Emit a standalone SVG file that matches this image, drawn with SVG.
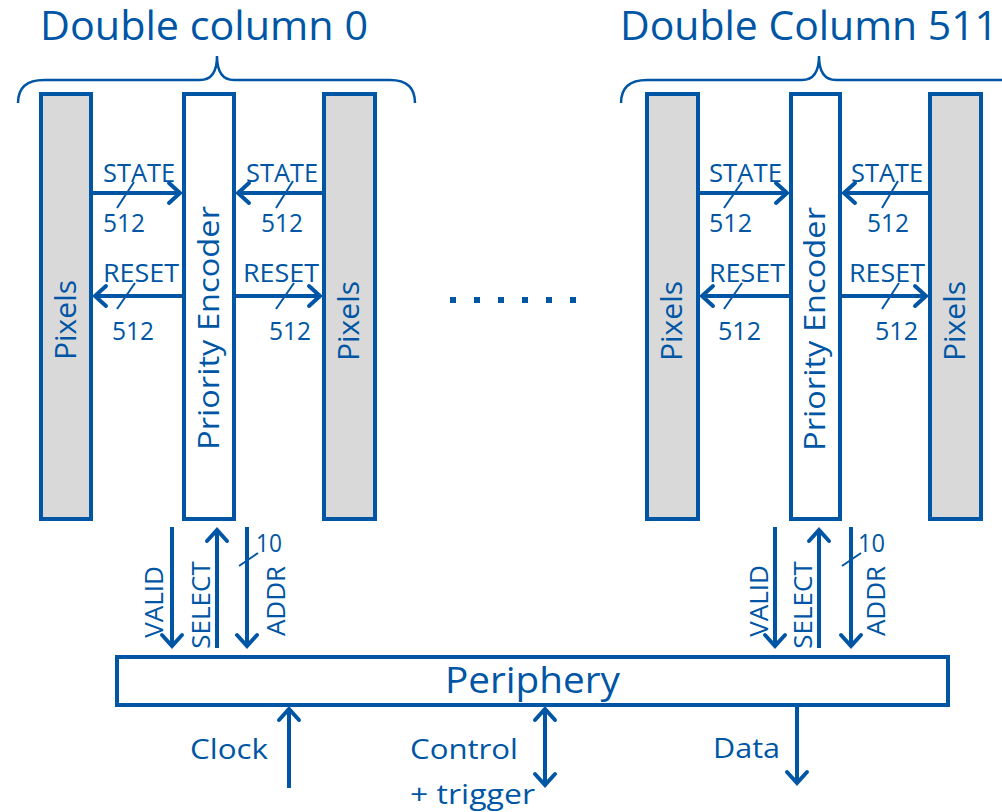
<svg xmlns="http://www.w3.org/2000/svg" width="1002" height="812" viewBox="0 0 1002 812">
  <defs>
    <style>
      .t { font-family: "Open Sans", "Noto Sans", sans-serif; fill: #0056a4; }
      .title { font-size: 41px; }
      .sig { font-size: 26px; }
      .lbl { font-size: 28px; }
      .col { font-size: 30px; }
      .pix { fill: #d9d9d9; stroke: #0056a4; stroke-width: 4; }
      .box { fill: #ffffff; stroke: #0056a4; stroke-width: 4; }
      .brace { fill: none; stroke: #0056a4; stroke-width: 2.5; }
      .wire { fill: none; stroke: #0056a4; stroke-width: 4; }
      .bus { fill: none; stroke: #0056a4; stroke-width: 2; }
    </style>
    <marker id="arrow" markerUnits="userSpaceOnUse" viewBox="-16 -14 20 28" refX="0" refY="0" markerWidth="20" markerHeight="28" orient="auto-start-reverse">
      <path d="M-11,-10 L0,0 L-11,10" fill="none" stroke="#0056a4" stroke-width="4" stroke-linecap="round" stroke-linejoin="miter"/>
    </marker>
  </defs>

  <rect width="1002" height="812" fill="#ffffff"/>

  <!-- Double column 0 -->
  <g id="dc0-title">
    <text class="t title" x="40" y="40" textLength="328" lengthAdjust="spacingAndGlyphs">Double column 0</text>
    <path class="brace" d="M18,103 Q18,80 44,80 L200,80 Q217,80 217,56 Q217,80 234,80 L390,80 Q415,80 415,103"/>
  </g>
  <g id="dc0-pixels-left">
    <rect class="pix" x="41" y="94" width="50" height="425"/>
    <text class="t col" transform="translate(76,320) rotate(-90)" text-anchor="middle" textLength="80" lengthAdjust="spacingAndGlyphs">Pixels</text>
  </g>
  <g id="dc0-encoder">
    <rect class="box" x="184" y="94" width="50" height="425"/>
    <text class="t col" transform="translate(219,328) rotate(-90)" text-anchor="middle" textLength="244" lengthAdjust="spacingAndGlyphs">Priority Encoder</text>
  </g>
  <g id="dc0-pixels-right">
    <rect class="pix" x="324" y="94" width="51" height="425"/>
    <text class="t col" transform="translate(359,321) rotate(-90)" text-anchor="middle" textLength="80" lengthAdjust="spacingAndGlyphs">Pixels</text>
  </g>

  <!-- Double Column 511 -->
  <g id="dc511-title">
    <text class="t title" x="620" y="40" textLength="378" lengthAdjust="spacingAndGlyphs">Double Column 511</text>
    <path class="brace" d="M621,103 Q621,80 647,80 L802,80 Q819,80 819,56 Q819,80 836,80 L1012,80"/>
  </g>
  <g id="dc511-pixels-left">
    <rect class="pix" x="647" y="94" width="51" height="425"/>
    <text class="t col" transform="translate(682,321) rotate(-90)" text-anchor="middle" textLength="80" lengthAdjust="spacingAndGlyphs">Pixels</text>
  </g>
  <g id="dc511-encoder">
    <rect class="box" x="791" y="94" width="49" height="425"/>
    <text class="t col" transform="translate(825,329) rotate(-90)" text-anchor="middle" textLength="244" lengthAdjust="spacingAndGlyphs">Priority Encoder</text>
  </g>
  <g id="dc511-pixels-right">
    <rect class="pix" x="930" y="94" width="51" height="425"/>
    <text class="t col" transform="translate(965,321) rotate(-90)" text-anchor="middle" textLength="80" lengthAdjust="spacingAndGlyphs">Pixels</text>
  </g>

  <!-- ellipsis between columns -->
  <g id="ellipsis" fill="#0056a4">
    <rect x="450" y="297" width="6" height="6"/>
    <rect x="474" y="297" width="6" height="6"/>
    <rect x="498" y="297" width="6" height="6"/>
    <rect x="522" y="297" width="6" height="6"/>
    <rect x="546" y="297" width="6" height="6"/>
    <rect x="570" y="297" width="6" height="6"/>
  </g>

  <!-- Periphery -->
  <g id="periphery">
    <rect class="box" x="117" y="657" width="831" height="48"/>
    <text class="t" style="font-size:36px" x="445" y="693" textLength="175" lengthAdjust="spacingAndGlyphs">Periphery</text>
  </g>

  <!-- connectors -->
  <g id="connectors">
    <!-- column 0: STATE / RESET buses -->
    <line class="wire" x1="93" y1="193" x2="180" y2="193" marker-end="url(#arrow)"/>
    <line class="bus" x1="117" y1="208" x2="134" y2="182"/>
    <line class="wire" x1="322" y1="193" x2="238" y2="193" marker-end="url(#arrow)"/>
    <line class="bus" x1="276" y1="208" x2="293" y2="181"/>
    <line class="wire" x1="182" y1="296" x2="95" y2="296" marker-end="url(#arrow)"/>
    <line class="bus" x1="117" y1="309" x2="135" y2="283"/>
    <line class="wire" x1="236" y1="296" x2="320" y2="296" marker-end="url(#arrow)"/>
    <line class="bus" x1="276" y1="309" x2="294" y2="283"/>

    <!-- column 511: STATE / RESET buses -->
    <line class="wire" x1="700" y1="193" x2="787" y2="193" marker-end="url(#arrow)"/>
    <line class="bus" x1="724" y1="208" x2="742" y2="182"/>
    <line class="wire" x1="928" y1="193" x2="844" y2="193" marker-end="url(#arrow)"/>
    <line class="bus" x1="882" y1="208" x2="898" y2="181"/>
    <line class="wire" x1="789" y1="296" x2="702" y2="296" marker-end="url(#arrow)"/>
    <line class="bus" x1="724" y1="309" x2="742" y2="283"/>
    <line class="wire" x1="842" y1="296" x2="926" y2="296" marker-end="url(#arrow)"/>
    <line class="bus" x1="882" y1="309" x2="899" y2="283"/>

    <!-- column 0: VALID / SELECT / ADDR -->
    <line class="wire" x1="172" y1="527" x2="172" y2="646" marker-end="url(#arrow)"/>
    <line class="wire" x1="217" y1="648" x2="217" y2="530" marker-end="url(#arrow)"/>
    <line class="wire" x1="247" y1="527" x2="247" y2="646" marker-end="url(#arrow)"/>
    <line class="bus" x1="239" y1="566" x2="258" y2="553"/>

    <!-- column 511: VALID / SELECT / ADDR -->
    <line class="wire" x1="775" y1="527" x2="775" y2="646" marker-end="url(#arrow)"/>
    <line class="wire" x1="819" y1="648" x2="819" y2="530" marker-end="url(#arrow)"/>
    <line class="wire" x1="851" y1="527" x2="851" y2="646" marker-end="url(#arrow)"/>
    <line class="bus" x1="842" y1="566" x2="861" y2="553"/>

    <!-- periphery I/O -->
    <line class="wire" x1="289" y1="788" x2="289" y2="709" marker-end="url(#arrow)"/>
    <line class="wire" x1="545" y1="709" x2="545" y2="785" marker-start="url(#arrow)" marker-end="url(#arrow)"/>
    <line class="wire" x1="797" y1="707" x2="797" y2="783" marker-end="url(#arrow)"/>
  </g>

  <!-- signal labels -->
  <g id="labels" class="t sig">
    <text x="103" y="182" textLength="72" lengthAdjust="spacingAndGlyphs">STATE</text>
    <text x="103" y="232" textLength="42" lengthAdjust="spacingAndGlyphs">512</text>
    <text x="246" y="182" textLength="72" lengthAdjust="spacingAndGlyphs">STATE</text>
    <text x="261" y="232" textLength="42" lengthAdjust="spacingAndGlyphs">512</text>
    <text x="103" y="282" textLength="76" lengthAdjust="spacingAndGlyphs">RESET</text>
    <text x="112" y="340" textLength="42" lengthAdjust="spacingAndGlyphs">512</text>
    <text x="243" y="282" textLength="76" lengthAdjust="spacingAndGlyphs">RESET</text>
    <text x="269" y="340" textLength="42" lengthAdjust="spacingAndGlyphs">512</text>

    <text x="709" y="182" textLength="73" lengthAdjust="spacingAndGlyphs">STATE</text>
    <text x="709" y="232" textLength="43" lengthAdjust="spacingAndGlyphs">512</text>
    <text x="851" y="182" textLength="72" lengthAdjust="spacingAndGlyphs">STATE</text>
    <text x="867" y="232" textLength="42" lengthAdjust="spacingAndGlyphs">512</text>
    <text x="709" y="282" textLength="76" lengthAdjust="spacingAndGlyphs">RESET</text>
    <text x="718" y="340" textLength="43" lengthAdjust="spacingAndGlyphs">512</text>
    <text x="849" y="282" textLength="76" lengthAdjust="spacingAndGlyphs">RESET</text>
    <text x="875" y="340" textLength="43" lengthAdjust="spacingAndGlyphs">512</text>

    <text transform="translate(163,602) rotate(-90)" text-anchor="middle">VALID</text>
    <text transform="translate(210,605) rotate(-90)" text-anchor="middle">SELECT</text>
    <text transform="translate(285,601) rotate(-90)" text-anchor="middle">ADDR</text>
    <text x="256" y="552" textLength="26" lengthAdjust="spacingAndGlyphs">10</text>

    <text transform="translate(768,601) rotate(-90)" text-anchor="middle">VALID</text>
    <text transform="translate(812,605) rotate(-90)" text-anchor="middle">SELECT</text>
    <text transform="translate(885,601) rotate(-90)" text-anchor="middle">ADDR</text>
    <text x="858" y="552" textLength="27" lengthAdjust="spacingAndGlyphs">10</text>
  </g>

  <g id="io-labels" class="t lbl">
    <text x="190" y="759" textLength="78" lengthAdjust="spacingAndGlyphs">Clock</text>
    <text x="410" y="759" textLength="108" lengthAdjust="spacingAndGlyphs">Control</text>
    <text x="410" y="804" textLength="125" lengthAdjust="spacingAndGlyphs">+ trigger</text>
    <text x="713" y="758" textLength="67" lengthAdjust="spacingAndGlyphs">Data</text>
  </g>
</svg>
